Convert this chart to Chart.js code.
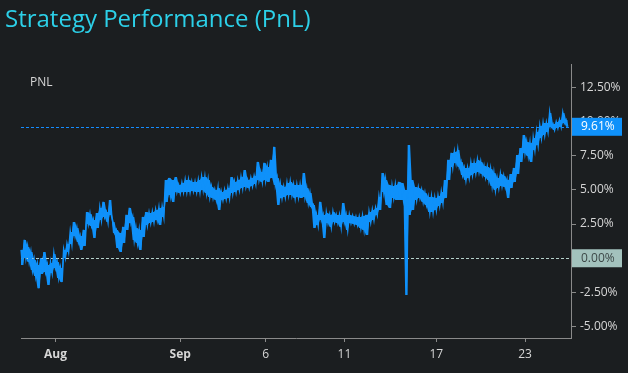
<!DOCTYPE html>
<html>
<head>
<meta charset="utf-8">
<script src="https://cdn.jsdelivr.net/npm/chart.js@4"></script>
<style>
  html, body { margin: 0; padding: 0; background: #1b1e20; }
  #wrap { width: 628px; height: 373px; }
</style>
</head>
<body>
<div id="wrap"><canvas class="grafico"></canvas></div>
<script>
// top / bottom edge of the noisy PnL band (%) left to right
const pnlHigh = [0.61, 1.34, 0.83, 0.46, -0.12, -0.49, 0.02, 0.46, -0.49, -0.34,
  0.31, -0.27, -0.71, 0.61, 1.04, 1.92, 2.65, 2.21, 1.63, 2.07,
  3.38, 3.24, 2.80, 3.31, 3.68, 4.12, 3.38, 4.26, 2.65, 2.07,
  1.85, 2.29, 3.17, 3.68, 3.02, 2.21, 2.07, 3.02, 3.38, 3.31,
  3.38, 3.53, 3.68, 3.75, 5.72, 5.87, 5.72, 5.94, 5.36, 5.50,
  5.72, 5.72, 5.58, 5.58, 5.72, 5.94, 5.94, 5.72, 5.21, 4.99,
  5.14, 4.85, 4.99, 5.14, 5.94, 5.58, 5.72, 5.94, 6.45, 5.72,
  5.87, 6.01, 7.04, 6.31, 6.97, 6.67, 7.19, 8.14, 5.87, 5.36,
  5.21, 5.50, 5.58, 5.36, 5.36, 5.36, 6.23, 5.14, 4.77, 3.90,
  3.17, 4.12, 3.17, 3.31, 3.17, 3.38, 3.17, 3.17, 4.04, 3.17,
  3.17, 3.09, 3.02, 3.02, 3.09, 3.17, 3.38, 3.53, 3.68, 4.48,
  6.23, 5.72, 5.36, 5.28, 5.36, 5.58, 5.50, 4.99, 8.28, 5.72,
  5.21, 5.14, 4.99, 4.77, 4.48, 4.48, 4.41, 4.55, 4.85, 5.72,
  7.19, 7.70, 7.77, 7.92, 7.04, 6.60, 6.60, 6.97, 6.97, 7.19,
  7.04, 6.75, 6.67, 6.53, 6.23, 5.87, 6.16, 6.01, 5.72, 6.16,
  6.60, 7.55, 8.06, 9.01, 8.50, 8.43, 8.79, 9.23, 9.67, 9.89,
  9.89, 10.62, 9.82, 9.96, 10.11, 10.62, 10.11];

const pnlLow = [-0.49, 0.02, -0.27, -0.86, -1.30, -2.19, -1.15, -1.00, -1.95, -1.08,
  -0.71, -1.44, -1.74, 0.02, 0.46, 1.04, 1.63, 1.19, 0.61, 0.90,
  2.51, 2.36, 1.48, 2.21, 2.80, 3.02, 2.65, 3.17, 1.85, 0.75,
  0.46, 1.12, 2.07, 2.58, 1.34, 1.12, 0.61, 1.56, 2.43, 2.58,
  2.65, 2.80, 2.43, 3.02, 4.12, 4.63, 4.12, 4.85, 4.77, 4.85,
  4.85, 4.85, 4.92, 4.85, 4.85, 4.99, 4.77, 4.48, 4.41, 4.26,
  3.53, 4.26, 4.34, 4.41, 4.77, 4.85, 4.99, 5.14, 5.21, 5.14,
  5.28, 5.43, 5.72, 5.58, 5.72, 5.58, 5.87, 5.36, 3.90, 4.41,
  4.48, 4.63, 4.63, 4.41, 4.48, 4.41, 4.48, 4.04, 3.75, 2.21,
  2.43, 2.80, 1.48, 2.58, 2.29, 2.65, 2.58, 2.29, 2.65, 2.07,
  2.58, 2.51, 2.43, 2.21, 2.07, 1.70, 2.65, 2.80, 3.17, 3.53,
  4.85, 3.90, 3.68, 4.41, 4.26, 4.26, 4.26, -2.68, 3.17, 3.53,
  4.26, 4.41, 4.12, 3.90, 3.38, 3.38, 3.53, 3.82, 4.04, 4.41,
  5.72, 6.67, 6.97, 6.67, 6.09, 5.72, 5.87, 6.09, 6.23, 6.31,
  6.16, 5.94, 5.72, 5.28, 4.99, 5.14, 5.28, 5.21, 4.41, 5.14,
  5.58, 6.16, 7.04, 7.70, 7.48, 7.04, 7.92, 8.28, 8.79, 9.01,
  9.23, 9.60, 9.38, 9.52, 9.60, 9.89, 9.61];

const tickLabels = ["Aug", "Sep", "6", "11", "17", "23"];
const tickIndex = [21, 97, 149, 197, 253, 307];
const yTicks = [-5, -2.5, 0, 2.5, 5, 7.5, 10, 12.5];

const canvas = document.querySelector('.grafico');

// interleave high/low so the line draws the dense band
const serie = [];
const bandTop = [];
const bandBottom = [];
pnlHigh.forEach((h, i) => {
  serie.push(h); serie.push(pnlLow[i]);
  bandTop.push(h); bandTop.push(h);
  bandBottom.push(pnlLow[i]); bandBottom.push(pnlLow[i]);
});
const lastValue = serie[serie.length - 1];

const labels = [];
for (let i = 0; i < serie.length + 2; i++) {
  const k = tickIndex.indexOf(i);
  labels.push(k >= 0 ? tickLabels[k] : "");
}

const BLUE = '#0f91fa';
const FONT = "'Open Sans', sans-serif";

function dottedLine(chart, value, color) {
  const c = chart.ctx, a = chart.chartArea;
  const py = Math.round(chart.scales.y.getPixelForValue(value)) + 0.5;
  c.save();
  c.lineWidth = 1;
  c.strokeStyle = color;
  c.setLineDash([3, 2]);
  c.beginPath();
  c.moveTo(a.left, py);
  c.lineTo(a.right, py);
  c.stroke();
  c.restore();
}

const decor = {
  id: 'decor',
  beforeDraw(chart) {
    const c = chart.ctx;
    c.save();
    c.fillStyle = '#1b1e20';
    c.fillRect(0, 0, chart.width, chart.height);
    c.restore();
  },
  beforeDatasetsDraw(chart) {
    dottedLine(chart, 0, '#b5d0cb');
    dottedLine(chart, lastValue, 'rgb(20,140,255)');
  },
  afterDraw(chart) {
    const c = chart.ctx, a = chart.chartArea, y = chart.scales.y;
    c.save();
    const box = (v, bg, fg) => {
      const py = y.getPixelForValue(v);
      c.fillStyle = bg;
      c.fillRect(a.right + 1, py - 9, 50, 18);
      c.fillStyle = fg;
      c.font = '12px ' + FONT;
      c.textBaseline = 'middle';
      c.textAlign = 'left';
      c.fillText(v.toFixed(2) + '%', a.right + 10, py);
    };
    box(lastValue, BLUE, '#ffffff');
    box(0, '#a3c2bd', '#3d4847');

    c.fillStyle = '#2cd0e8';
    c.font = '24px ' + FONT;
    c.textBaseline = 'alphabetic';
    c.fillText('Strategy Performance (PnL)', 5, 27);

    c.fillStyle = '#d6d6d6';
    c.font = '12px ' + FONT;
    c.textBaseline = 'middle';
    c.fillText('PNL', 30, 83);
    c.restore();
  }
};

const config = {
  type: 'line',
  data: {
    labels: labels,
    datasets: [{
      label: 'PNL',
      data: serie,
      borderColor: BLUE,
      borderWidth: 1.6,
      pointRadius: 0,
      tension: 0,
      fill: false,
      order: 0
    }, {
      label: 'top',
      data: bandTop,
      borderWidth: 0,
      borderColor: 'rgba(0,0,0,0)',
      backgroundColor: BLUE,
      pointRadius: 0,
      tension: 0,
      fill: '+1',
      order: 1
    }, {
      label: 'bottom',
      data: bandBottom,
      borderWidth: 0,
      borderColor: 'rgba(0,0,0,0)',
      pointRadius: 0,
      tension: 0,
      fill: false,
      order: 2
    }]
  },
  options: {
    responsive: true,
    maintainAspectRatio: false,
    animation: false,
    layout: { padding: { left: 21, top: 64, right: 0, bottom: 0 } },
    plugins: {
      legend: { display: false },
      title: { display: false },
      tooltip: { enabled: false },
      filler: { drawTime: 'beforeDatasetsDraw' }
    },
    scales: {
      x: {
        type: 'category',
        grid: { display: true, drawOnChartArea: false, drawTicks: true, tickLength: 4, color: '#8a8a8a' },
        border: { display: true, color: '#8a8a8a' },
        afterBuildTicks: (s) => { s.ticks = s.ticks.filter(t => tickIndex.includes(t.value)); },
        afterFit: (s) => { s.height = 35; },
        ticks: {
          autoSkip: false,
          maxRotation: 0,
          padding: 5,
          color: '#d6d6d6',
          font: (ctx) => ({ family: FONT, size: 12, weight: /^[A-Z]/.test(ctx.tick && ctx.tick.label) ? 'bold' : 'normal' })
        }
      },
      y: {
        position: 'right',
        min: -5.83,
        max: 14.2,
        grid: { display: true, drawOnChartArea: false, drawTicks: true, tickLength: 5, color: '#8a8a8a' },
        border: { display: true, color: '#8a8a8a' },
        afterBuildTicks: (s) => { s.ticks = yTicks.map(v => ({ value: v })); },
        afterFit: (s) => { s.width = 57; },
        ticks: {
          padding: 4,
          color: '#d6d6d6',
          font: { family: FONT, size: 12 },
          callback: (v) => Number(v).toFixed(2) + '%'
        }
      }
    }
  },
  plugins: [decor]
};

new Chart(canvas, config);
</script>
</body>
</html>
